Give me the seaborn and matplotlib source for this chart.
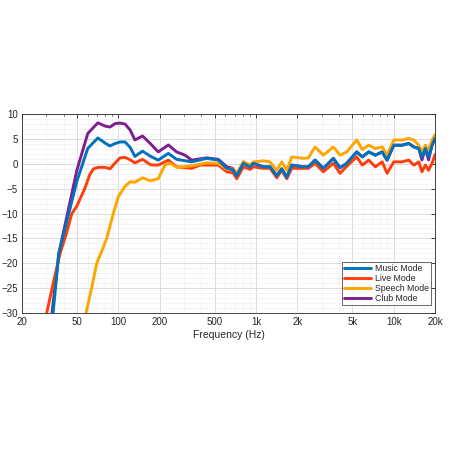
import matplotlib
matplotlib.use("Agg")
import matplotlib.pyplot as plt
import numpy as np
import pandas as pd
import seaborn as sns
from matplotlib.ticker import FixedLocator, NullFormatter, LogLocator

# Frequency grid shared by all modes above ~600 Hz
freq_hi = [613, 680, 725, 810, 906, 957, 1131, 1264, 1416, 1538, 1672, 1818,
           2208, 2400, 2686, 3084, 3646, 4077, 4558, 5393, 5912, 6590, 7360,
           8250, 8950, 10010, 11500, 12860, 14000, 15200, 16030, 17000, 17900,
           19000, 20000]

# Music Mode
music_freq_lo = [33.6, 37, 42, 50, 60, 71, 80, 87, 95, 103, 112, 122, 132, 150,
                 172, 195, 231, 265, 341, 439, 533]
music_db_lo = [-30, -18, -11.9, -3.5, 3.1, 5.2, 4.2, 3.6, 4.1, 4.4, 4.4, 3.3, 1.5,
               2.55, 1.5, 0.75, 2.1, 0.9, 0.4, 1.1, 0.75]
music_db_hi = [-0.9, -1.2, -2.4, 0.1, -0.6, 0.1, -0.6, -0.6, -2.4, -1.0, -2.7, -0.25,
               -0.6, -0.6, 0.75, -0.9, 1.1, -0.8, 0.1, 2.4, 1.4, 2.4, 1.75, 2.4,
               0.75, 3.75, 3.75, 4.1, 3.4, 3.1, 1.4, 3.1, 1.4, 3.75, 5.2]

# Live Mode
live_freq_lo = [30.2, 34, 37.8, 42, 46, 50, 57, 62, 66, 72, 80, 87, 95, 103, 112,
                122, 132, 150, 172, 195, 231, 265, 341, 393, 533]
live_db_lo = [-30, -23.5, -18, -14, -10, -8.5, -5, -2.2, -1.0, -0.7, -0.7, -1.0,
              0.2, 1.2, 1.3, 0.8, 0.2, 0.9, -0.2, -0.25, 0.75, -0.6, -0.9, -0.25, -0.25]
live_db_hi = [-1.6, -1.8, -3.0, -0.6, -1.1, -0.6, -0.9, -0.9, -2.8, -1.3, -3.0, -0.9,
              -0.9, -0.9, 0.1, -1.6, 0.1, -1.9, -0.5, 1.4, -0.25, 0.75, -0.6, 0.4,
              -1.9, 0.4, 0.4, 0.75, -0.25, 0.4, -1.6, -0.25, -1.3, 0.1, 1.9]

# Speech Mode
speech_freq_lo = [58.3, 64, 69.7, 76, 82.4, 92, 100, 112, 122, 132, 150, 170, 195,
                  218, 238, 265, 341, 439, 533]
speech_db_lo = [-30, -25, -20, -17.5, -15, -10, -6.6, -4.5, -3.6, -3.7, -2.8, -3.4,
                -3.0, -0.25, 0.1, -0.7, -0.4, 0.2, 0.1]
speech_db_hi = [-1.1, -1.0, -1.9, 0.4, -0.2, 0.4, 0.6, 0.4, -1.3, 0.4, -1.3, 1.4,
                1.1, 1.2, 3.4, 1.75, 3.4, 1.75, 2.4, 4.8, 2.9, 3.75, 3.1, 3.4,
                1.75, 4.8, 4.8, 5.1, 4.8, 3.75, 2.4, 3.75, 2.75, 4.8, 5.9]

# Club Mode
club_freq_lo = [33, 37, 42, 50, 60, 71, 80, 87, 95, 103, 112, 122, 132, 150, 172,
                195, 231, 265, 305, 341, 439, 533]
club_db_lo = [-30, -18, -11, -1.3, 6.1, 8.25, 7.6, 7.4, 8.1, 8.2, 8.0, 6.8, 4.8,
              5.6, 4.0, 2.4, 3.8, 2.4, 1.75, 0.75, 1.2, 0.9]
club_db_hi = [-0.6, -0.9, -2.2, 0.4, -0.6, 0.1, -0.6, -0.6, -2.4, -1.0, -2.7, -0.25,
              -0.6, -0.6, 0.75, -0.9, 1.1, -0.8, 0.1, 2.4, 1.4, 2.4, 1.75, 2.4,
              0.75, 3.75, 3.75, 4.1, 3.4, 3.1, 0.8, 3.1, 0.8, 3.75, 5.2]

x_ticks = [20, 50, 100, 200, 500, 1000, 2000, 5000, 10000, 20000]
x_tick_labels = ["20", "50", "100", "200", "500", "1k", "2k", "5k", "10k", "20k"]
y_ticks = [-30, -25, -20, -15, -10, -5, 0, 5, 10]

colors = {
    "Music Mode": "#0072BD",
    "Live Mode": "#FF3D0A",
    "Speech Mode": "#FFA500",
    "Club Mode": "#7E1F8E",
}

series = {
    "Music Mode": (music_freq_lo + freq_hi, music_db_lo + music_db_hi),
    "Live Mode": (live_freq_lo + freq_hi, live_db_lo + live_db_hi),
    "Speech Mode": (speech_freq_lo + freq_hi, speech_db_lo + speech_db_hi),
    "Club Mode": (club_freq_lo + freq_hi, club_db_lo + club_db_hi),
}

sns.set_theme(style="white")
plt.rcParams["font.family"] = ["Liberation Sans", "DejaVu Sans"]

fig = plt.figure(figsize=(4.5, 4.5), dpi=100)
ax = fig.add_axes([0.049, 0.3044, 0.918, 0.442])

# draw order: club at the back, music on top
draw_order = ["Club Mode", "Live Mode", "Speech Mode", "Music Mode"]
zs = {"Club Mode": 2, "Live Mode": 3, "Speech Mode": 4, "Music Mode": 5}
for name in draw_order:
    f, db = series[name]
    df = pd.DataFrame({"freq": f, "db": db})
    sns.lineplot(data=df, x="freq", y="db", ax=ax, color=colors[name],
                 linewidth=2.1, label=name, zorder=zs[name], sort=True)

ax.set_xscale("log")
ax.set_xlim(20, 20000)
ax.set_ylim(-30, 10)
ax.xaxis.set_major_locator(FixedLocator(x_ticks))
ax.set_xticklabels(x_tick_labels)
ax.xaxis.set_minor_locator(LogLocator(base=10, subs=np.arange(2, 10)))
ax.xaxis.set_minor_formatter(NullFormatter())
ax.set_yticks(y_ticks)
ax.yaxis.set_minor_locator(FixedLocator(np.arange(-30, 11, 1)))

ax.grid(True, which="major", color="#d6d6d6", linewidth=0.6)
ax.grid(True, which="minor", color="#f0f0f0", linewidth=0.5)
ax.set_axisbelow(True)

ax.tick_params(axis="both", which="both", direction="in", top=True, right=True,
               colors="#262626", labelsize=7, pad=3)
ax.tick_params(axis="both", which="major", length=3, width=0.6)
ax.tick_params(axis="both", which="minor", length=1.5, width=0.5)
ax.tick_params(axis="y", which="minor", length=0)
for sp in ax.spines.values():
    sp.set_color("#262626")
    sp.set_linewidth(0.6)

ax.set_xlabel("Frequency (Hz)", fontsize=7.5, color="#262626", labelpad=2)
ax.set_ylabel("")

handles, labels = ax.get_legend_handles_labels()
order = ["Music Mode", "Live Mode", "Speech Mode", "Club Mode"]
hmap = dict(zip(labels, handles))
leg = ax.legend([hmap[k] for k in order], order, loc="lower right",
                bbox_to_anchor=(0.99, 0.04), fontsize=6.3,
                frameon=True, fancybox=False, edgecolor="#262626",
                handlelength=3.1, handletextpad=0.4, labelspacing=0.12,
                borderpad=0.25, borderaxespad=0)
leg.get_frame().set_linewidth(0.6)

fig.savefig("out.png", dpi=100, facecolor="white")
